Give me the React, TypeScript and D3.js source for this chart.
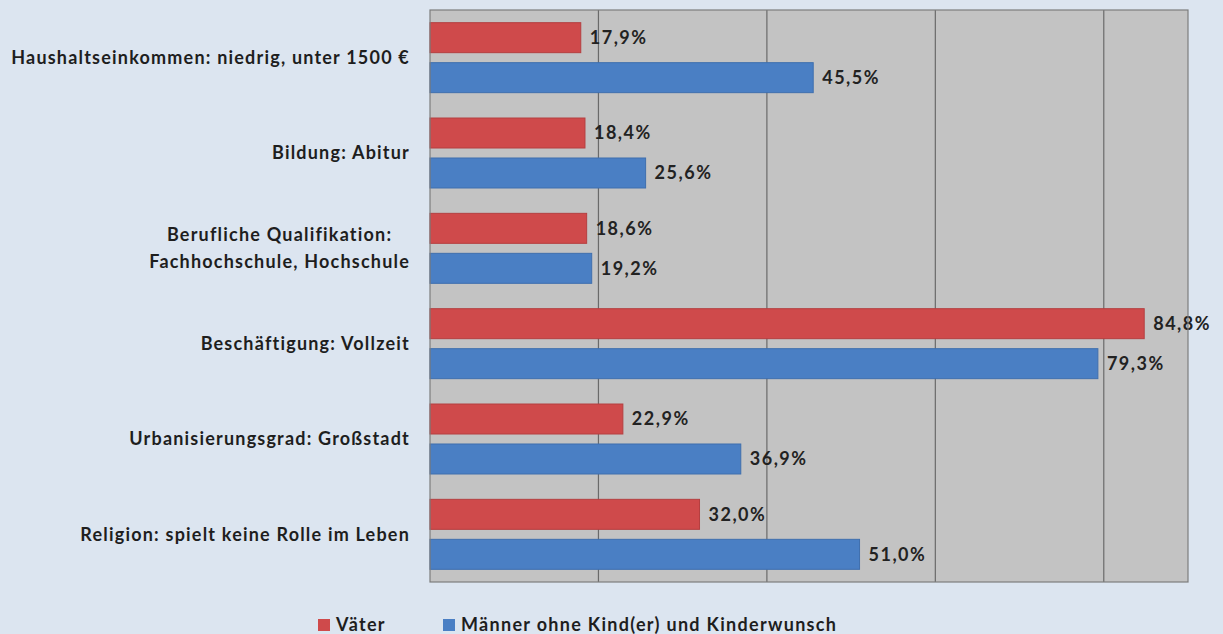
import React, { useEffect, useRef } from "react";
import * as d3 from "d3";

const categories = [
  "Haushaltseinkommen: niedrig, unter 1500 €",
  "Bildung: Abitur",
  "Berufliche Qualifikation:\nFachhochschule, Hochschule",
  "Beschäftigung: Vollzeit",
  "Urbanisierungsgrad: Großstadt",
  "Religion: spielt keine Rolle im Leben",
];
const seriesNames = ["Väter", "Männer ohne Kind(er) und Kinderwunsch"];
const vaeter = [17.9, 18.4, 18.6, 84.8, 22.9, 32.0];
const maenner = [45.5, 25.6, 19.2, 79.3, 36.9, 51.0];
const gridTicks = [20, 40, 60, 80];
const axisMax = 90;

const W = 1223;
const H = 634;
const FONT = "Lato, 'Open Sans', sans-serif";
const colors = ["#cf4a4b", "#4a7fc4"];
const strokes = ["#b53f40", "#3f6fae"];

export default function App() {
  const ref = useRef<SVGSVGElement>(null);

  useEffect(() => {
    const svg = d3.select(ref.current);
    svg.selectAll("*").remove();

    const left = 430, right = 1188, top = 10, bottom = 582;
    const x = d3.scaleLinear().domain([0, axisMax]).range([left, right]);
    const y = d3.scaleBand<string>().domain(categories).range([top, bottom]).padding(0);
    const inner = d3
      .scaleBand<string>()
      .domain(seriesNames)
      .range([0, y.bandwidth()])
      .paddingInner(0.25)
      .paddingOuter(0.317);

    svg.append("rect").attr("x", 0).attr("y", 0).attr("width", W).attr("height", H).attr("fill", "#dce5f0");

    svg
      .append("rect")
      .attr("x", left)
      .attr("y", top)
      .attr("width", right - left)
      .attr("height", bottom - top)
      .attr("fill", "#c3c3c3");

    svg
      .append("g")
      .selectAll("line")
      .data(gridTicks)
      .join("line")
      .attr("x1", (d) => x(d))
      .attr("x2", (d) => x(d))
      .attr("y1", top)
      .attr("y2", bottom)
      .attr("stroke", "#6a6a6a")
      .attr("stroke-width", 1.2);

    const data = categories.map((c, i) => ({ c, vals: [vaeter[i], maenner[i]] }));

    const groups = svg
      .append("g")
      .selectAll("g")
      .data(data)
      .join("g")
      .attr("transform", (d) => `translate(0,${y(d.c)})`);

    seriesNames.forEach((s, si) => {
      groups
        .append("rect")
        .attr("x", x(0))
        .attr("y", inner(s)!)
        .attr("width", (d) => x(d.vals[si]) - x(0))
        .attr("height", inner.bandwidth())
        .attr("fill", colors[si])
        .attr("stroke", strokes[si])
        .attr("stroke-width", 1);

      groups
        .append("text")
        .attr("x", (d) => x(d.vals[si]) + 9)
        .attr("y", inner(s)! + inner.bandwidth() / 2)
        .attr("dy", "0.35em")
        .attr("font-family", FONT)
        .attr("font-weight", 700)
        .attr("font-size", 18)
        .attr("letter-spacing", 1.5)
        .attr("fill", "#222")
        .text((d) => d.vals[si].toFixed(1).replace(".", ",") + "%");
    });

    svg
      .append("rect")
      .attr("x", left)
      .attr("y", top)
      .attr("width", right - left)
      .attr("height", bottom - top)
      .attr("fill", "none")
      .attr("stroke", "#7d7d7d")
      .attr("stroke-width", 1.2);

    const labelRight = 410;
    data.forEach((d) => {
      const lines = d.c.split("\n");
      const cy = y(d.c)! + y.bandwidth() / 2;
      const lh = 27;
      const g = svg.append("g");
      const texts = lines.map((ln, li) =>
        g
          .append("text")
          .attr("y", cy + (li - (lines.length - 1) / 2) * lh)
          .attr("dy", "0.35em")
          .attr("font-family", FONT)
          .attr("font-weight", 700)
          .attr("font-size", 18)
          .attr("letter-spacing", 1.2)
          .attr("fill", "#1e1e1e")
          .attr("text-anchor", "middle")
          .text(ln)
      );
      const widths = texts.map((t) => (t.node() as SVGTextElement).getComputedTextLength());
      const maxW = Math.max(...widths);
      texts.forEach((t) => t.attr("x", labelRight - maxW / 2));
    });

    const legendY = 625;
    const legendX = [318, 443];
    seriesNames.forEach((s, si) => {
      svg
        .append("rect")
        .attr("x", legendX[si])
        .attr("y", legendY - 6)
        .attr("width", 12)
        .attr("height", 12)
        .attr("fill", colors[si]);
      svg
        .append("text")
        .attr("x", legendX[si] + 18)
        .attr("y", legendY)
        .attr("dy", "0.35em")
        .attr("font-family", FONT)
        .attr("font-weight", 700)
        .attr("font-size", 18)
        .attr("letter-spacing", 1.3)
        .attr("fill", "#1e1e1e")
        .text(s);
    });
  }, []);

  return (
    <svg
      ref={ref}
      width={W}
      height={H}
      style={{ position: "absolute", left: 0, top: 0, display: "block" }}
    />
  );
}
